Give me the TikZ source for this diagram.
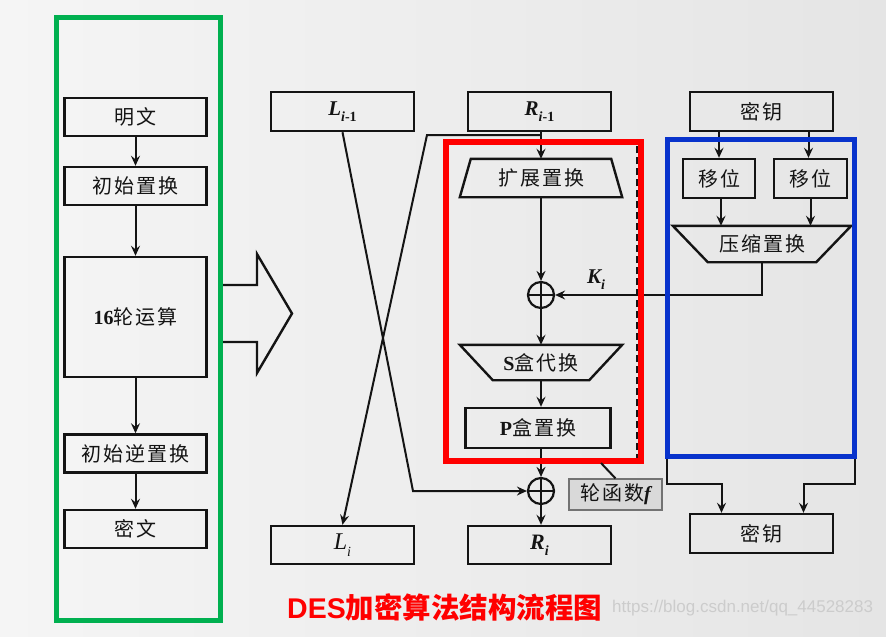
\documentclass[tikz,border=0pt]{standalone}
\usepackage{fontspec}
\setmainfont{Liberation Serif}
\setsansfont{Liberation Sans}
\newfontfamily\cjk[LetterSpace=10]{Noto Sans CJK SC}
\newfontfamily\cjkt{Noto Sans CJK SC}
\usetikzlibrary{arrows.meta,calc}
\definecolor{bgL}{RGB}{245,245,245}
\definecolor{bgR}{RGB}{229,229,229}
\definecolor{gfr}{RGB}{0,176,80}
\definecolor{rfr}{RGB}{255,0,0}
\definecolor{bfr}{RGB}{8,51,204}
\definecolor{ink}{RGB}{20,20,20}
\newcommand\mysub[1]{\raisebox{-0.28em}{\fontsize{14}{14}\selectfont #1}}
\begin{document}
\begin{tikzpicture}[x=1pt,y=-1pt,
  box/.style={draw=ink, line width=2.4pt, minimum width=143pt, minimum height=39pt, inner sep=0pt, text=ink, font=\fontsize{20}{20}\selectfont\cjk},
  sbox/.style={minimum height=36pt, inner sep=0pt, text=ink, font=\fontsize{20}{20}\selectfont\cjk},
  xr/.style={circle, draw=ink, line width=2.2pt, minimum size=26pt, inner sep=0pt},
  tip/.tip={Stealth[length=10pt,width=9pt,inset=3.5pt]},
  arr/.style={draw=ink, line width=2pt, -tip},
  ln/.style={draw=ink, line width=2pt},
  lab/.style={text=ink, inner sep=0pt, font=\fontsize{21}{21}\selectfont}]
\useasboundingbox (0,0) rectangle (886,637);
\shade[left color=bgL, right color=bgR] (0,0) rectangle (886,637);

% ---------- left column ----------
\node[box, minimum width=142pt, minimum height=38pt] (pt) at (135.5,117) {明文};
\node[box, minimum width=142pt, minimum height=38pt] (ip) at (135.5,186) {初始置换};
\node[box, minimum width=142pt, minimum height=120pt] (r16) at (135.5,317) {{\rmfamily\bfseries 16}轮运算};
\node[box, minimum width=142pt, minimum height=38pt] (fp) at (135.5,453.5) {初始逆置换};
\node[box, minimum width=142pt, minimum height=38pt] (ct) at (135.5,529) {密文};
\draw[arr] (pt) -- (ip);
\draw[arr] (ip) -- (r16);
\draw[arr] (r16) -- (fp);
\draw[arr] (fp) -- (ct);
\draw[gfr, line width=5pt] (56,17) rectangle (220,620);

% big arrow
\draw[ink, line width=2.4pt, line join=miter] (223,285) -- (257,285) -- (257,254) -- (292,313.5) -- (257,373) -- (257,342) -- (223,342);

% ---------- round ----------
\node[box, font=\fontsize{21}{21}\selectfont] (Li1) at (342.5,111.5) {{\bfseries\itshape L}\mysub{\bfseries\itshape i\upshape -1}};
\node[box, font=\fontsize{21}{21}\selectfont] (Ri1) at (539.5,111.5) {{\bfseries\itshape R}\mysub{\bfseries\itshape i\upshape -1}};
\node[box, font=\fontsize{24}{24}\selectfont, minimum height=38pt] (Li) at (342.5,545) {{\itshape L}\mysub{\itshape i}};
\node[box, font=\fontsize{22}{22}\selectfont, minimum height=38pt] (Ri) at (539.5,545) {{\bfseries\itshape R}\mysub{\bfseries\itshape i}};

% expansion
\node[sbox, minimum width=162pt, minimum height=38pt] (ext) at (541,178) {扩展置换};
\draw[ink, line width=2.4pt, line join=miter] ([xshift=11pt]ext.north west) -- ([xshift=-11pt]ext.north east) -- (ext.south east) -- (ext.south west) -- cycle;
\node[xr] (x1) at (541,295) {};
\draw[ink, line width=2.2pt] (x1.north) -- (x1.south) (x1.west) -- (x1.east);
\node[sbox, minimum width=162pt, minimum height=35pt] (sb) at (541,362.5) {{\rmfamily\bfseries S}盒代换};
\draw[ink, line width=2.4pt, line join=miter] (sb.north west) -- (sb.north east) -- ([xshift=-33pt]sb.south east) -- ([xshift=33pt]sb.south west) -- cycle;
\node[box, minimum width=145pt, minimum height=40pt] (pb) at (538,428) {{\rmfamily\bfseries P}盒置换};
\node[xr] (x2) at (541,491) {};
\draw[ink, line width=2.2pt] (x2.north) -- (x2.south) (x2.west) -- (x2.east);

\coordinate (br) at (541,135);
\draw[arr] (Ri1.south -| br) -- (ext.north -| br);
\draw[arr] (br) -- (427,135) -- (Li.north);
\draw[arr] (Li1.south) -- (413,491) -- (x2.west);
\draw[arr] (ext.south -| x1) -- (x1.north);
\draw[arr] (x1.south) -- (sb.north -| x1);
\draw[arr] (sb.south -| x1) -- (pb.north -| x1);
\draw[arr] (pb.south -| x2) -- (x2.north);
\draw[arr] (x2.south) -- (Ri.north -| x2);
\node[lab] (Ki) at (596,280) {{\bfseries\itshape K}\mysub{\bfseries\itshape i}};

% ---------- key schedule ----------
\node[box] (k1) at (761.5,111.5) {密钥};
\node[box, minimum width=72pt] (s1) at (719,178.5) {移位};
\node[box, minimum width=73pt] (s2) at (810.5,178.5) {移位};
\node[sbox, minimum width=178pt, minimum height=36pt] (cp) at (762,244) {压缩置换};
\draw[ink, line width=2.4pt, line join=miter] (cp.north west) -- (cp.north east) -- ([xshift=-35pt]cp.south east) -- ([xshift=35pt]cp.south west) -- cycle;
\node[box] (k2) at (761.5,533.5) {密钥};
\draw[arr] (s1.north |- k1.south) -- (s1.north);
\draw[arr] ([xshift=-2pt]s2.north |- k1.south) -- ([xshift=-2pt]s2.north);
\draw[arr] ([xshift=2pt]s1.south) -- ([xshift=2pt]s1.south |- cp.north);
\draw[arr] (s2.south) -- (s2.south |- cp.north);
\draw[arr] (cp.south) |- (x1.east);
\coordinate (bl) at (667,456);
\coordinate (brr) at (855,456);
\draw[arr] (bl) -- (667,484) -| ([xshift=-40pt]k2.north);
\draw[arr] (brr) -- (855,484) -| ([xshift=42pt]k2.north);

% ---------- frames ----------
\draw[ink, line width=2pt, dash pattern=on 7pt off 4pt] (446,142) rectangle (637,459);
\draw[rfr, line width=6pt] (446,142) rectangle (641,461);
\draw[bfr, line width=5pt] (667,139) rectangle (854,456);

% f label
\node[draw=black!55, fill=black!15, line width=1.2pt, minimum width=93pt, minimum height=31pt, inner sep=0pt, text=ink, font=\fontsize{20}{20}\selectfont] (fl) at (615.5,494.5) {{\cjk 轮函数}{\bfseries\itshape f}};
\draw[ln] (601,463) -- (fl.north);

% ---------- caption ----------
\node[text=rfr, inner sep=0pt, anchor=west, font=\fontsize{28.5}{28.5}\selectfont] (ttl) at (287,607) {\sffamily\bfseries DES{\cjkt\bfseries 加密算法结构流程图}};
\node[text=white!80!black, inner sep=0pt, anchor=west, font=\fontsize{17}{17}\selectfont\sffamily] (wm) at (612,608) {https://blog.csdn.net/qq\_44528283};
\end{tikzpicture}
\end{document}
